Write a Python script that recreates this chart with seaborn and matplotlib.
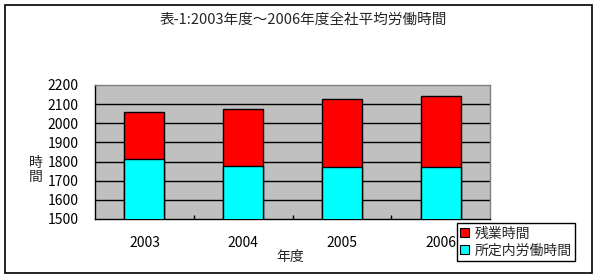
import matplotlib
matplotlib.use("Agg")
import matplotlib.pyplot as plt
import seaborn as sns
import pandas as pd
from matplotlib.patches import Patch, Rectangle

years = ["2003", "2004", "2005", "2006"]
regular_hours = [1812, 1779, 1773, 1774]   # 所定内労働時間
overtime_hours = [248, 294, 352, 367]      # 残業時間
yticks = [1500, 1600, 1700, 1800, 1900, 2000, 2100, 2200]

title = "表-1:2003年度～2006年度全社平均労働時間"
xlabel = "年度"
ylabel = "時\n間"
legend_labels = ["残業時間", "所定内労働時間"]

sns.set_theme(style="white")
plt.rcParams["font.family"] = ["Noto Sans CJK JP", "DejaVu Sans"]

df = pd.DataFrame({
    "year": years,
    "regular": regular_hours,
    "total": [r + o for r, o in zip(regular_hours, overtime_hours)],
})

fig = plt.figure(figsize=(6.04, 2.79), dpi=100)
ax = fig.add_axes([95 / 604, 1 - 219 / 279, 395 / 604, 134 / 279])
ax.set_facecolor("#C0C0C0")

sns.barplot(data=df, x="year", y="total", color="#FF0000", width=0.405,
            edgecolor="black", linewidth=1.0, saturation=1, ax=ax, zorder=3)
sns.barplot(data=df, x="year", y="regular", color="#00FFFF", width=0.405,
            edgecolor="black", linewidth=1.0, saturation=1, ax=ax, zorder=4)

ax.set_ylim(1500, 2200)
ax.set_xlim(-0.5, 3.5)
ax.set_yticks(yticks)
for y in yticks[1:-1]:
    ax.axhline(y, color="black", linewidth=1.0, zorder=1)

ax.set_xlabel("")
ax.set_ylabel("")
ax.tick_params(axis="y", length=0, pad=12, labelsize=10, colors="black")
ax.tick_params(axis="x", length=0, pad=12, labelsize=10, colors="black")
ax.set_xticks([0.5, 1.5, 2.5], minor=True)
ax.tick_params(axis="x", which="minor", direction="in", length=3, width=1, color="black", bottom=True)

for side in ["left", "bottom"]:
    ax.spines[side].set_color("black")
    ax.spines[side].set_linewidth(1.0)
for side in ["top", "right"]:
    ax.spines[side].set_color("#808080")
    ax.spines[side].set_linewidth(1.0)

fig.text(303 / 604, 1 - 20 / 279, title, ha="center", va="center", fontsize=10.5)
fig.text(290 / 604, 1 - 257 / 279, xlabel, ha="center", va="center", fontsize=10)
fig.text(36 / 604, 1 - 170 / 279, ylabel, ha="center", va="center", fontsize=10, linespacing=1.05)

handles = [Patch(facecolor="#FF0000", edgecolor="black", linewidth=0.8),
           Patch(facecolor="#00FFFF", edgecolor="black", linewidth=0.8)]
leg = fig.legend(handles, legend_labels, loc="upper left",
                 bbox_to_anchor=(457 / 604, 1 - 223 / 279),
                 fontsize=10, frameon=True, fancybox=False, framealpha=1,
                 edgecolor="black", handlelength=0.6, handleheight=0.6,
                 handletextpad=0.4, borderpad=0.25, labelspacing=0.2, borderaxespad=0)
leg.get_frame().set_linewidth(1.0)

fig.patches.append(Rectangle((5 / 604, 1 - 273 / 279), 587 / 604, 268 / 279,
                             transform=fig.transFigure, fill=False,
                             edgecolor="black", linewidth=1.2))

fig.savefig("out.png", dpi=100, facecolor="white")
